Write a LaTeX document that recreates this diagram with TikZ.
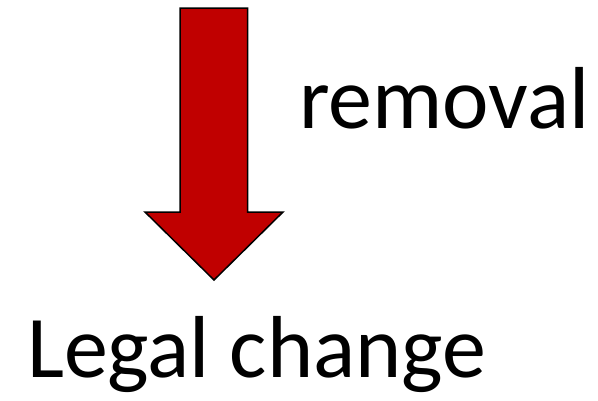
\documentclass[tikz,border=0pt]{standalone}
\usepackage{fontspec}
\setmainfont{Carlito}
\definecolor{darkred}{HTML}{C00000}
\begin{document}
\begin{tikzpicture}[x=1pt,y=-1pt,
  every node/.style={inner sep=0pt, font=\fontsize{88}{105}\selectfont},
  blockarrow/.style={fill=darkred, draw=black, line width=1.5pt, line join=miter}
]
\useasboundingbox (0,0) rectangle (598,400);
% big arrow
\draw[blockarrow] (180,8) -- (247.7,8) -- (247.7,212) -- (283,212) -- (214,280)
  -- (145,212) -- (180,212) -- cycle;
\node[anchor=base west] (removal) at (299,128) {removal};
\node[anchor=base west] (legal) at (27,377) {Legal change};
\end{tikzpicture}
\end{document}
